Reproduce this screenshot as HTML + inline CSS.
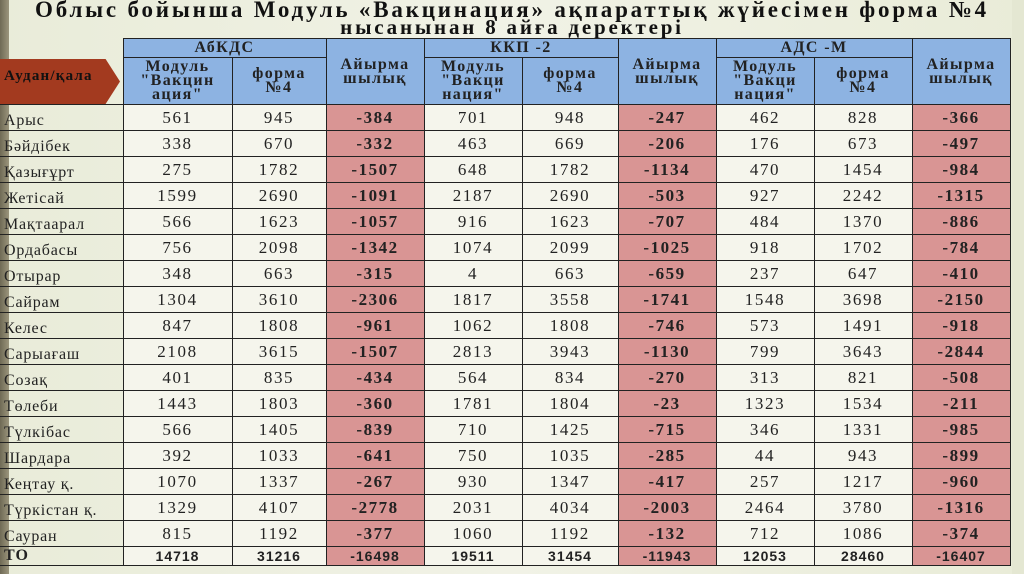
<!DOCTYPE html>
<html><head><meta charset="utf-8"><style>
html,body{margin:0;padding:0;}
body{width:1024px;height:574px;overflow:hidden;position:relative;
background:linear-gradient(90deg,#e9ecd9 0%,#f1f2e6 50%,#e9ecd8 100%);
font-family:"Liberation Serif",serif;}
.strip{position:absolute;left:0;top:0;width:9px;height:574px;background:linear-gradient(90deg,#6f6a55,#9b957c);}
.rstrip{position:absolute;right:0;top:0;width:12px;height:574px;background:#e4e7d2;}
.t1,.t2{position:absolute;left:0;width:1024px;text-align:center;font-weight:bold;color:#111;white-space:nowrap;}
.t1{top:-3px;font-size:23px;letter-spacing:2.8px;}
.t2{top:15px;font-size:21px;letter-spacing:2.8px;}
table{position:absolute;left:0;top:38px;border-collapse:collapse;table-layout:fixed;}
td{border:1.5px solid #222;padding:0;text-align:center;font-size:17px;letter-spacing:1.6px;color:#222;overflow:hidden;white-space:nowrap;}
.h{background:#8db3e2;font-weight:bold;font-size:16px;line-height:14px;letter-spacing:1.4px;}
.g{background:#8db3e2;font-weight:bold;font-size:16px;line-height:16px;letter-spacing:1.4px;}
.c{background:#f5f5ec;}
.d{background:#d99594;font-weight:bold;font-size:17px;letter-spacing:1.5px;}
.n{border-left:none;text-align:left;padding-left:4px;vertical-align:bottom;font-size:16px;letter-spacing:0.8px;background:transparent;}
tr.r td{height:24.5px;}
tr.r{height:26px;}
tr.to td{height:17px;font-family:"Liberation Sans",sans-serif;font-weight:bold;font-size:14px;letter-spacing:1px;}
tr.to td.n{font-family:"Liberation Serif",serif;font-size:16px;vertical-align:middle;}
.arrow{position:absolute;left:0;top:59px;width:120px;height:45px;background:#a33a1f;clip-path:polygon(0 0,88% 0,100% 50%,88% 100%,0 100%);}
.al{position:absolute;left:4px;top:68px;font-size:15px;font-weight:bold;letter-spacing:1.2px;color:#111;}
</style></head><body>
<div class="strip"></div><div class="rstrip"></div>
<div class="t1">Облыс бойынша Модуль «Вакцинация» ақпараттық жүйесімен форма №4</div>
<div class="t2">нысанынан 8 айға деректері</div>
<table>
<colgroup><col style="width:123px"><col style="width:109px"><col style="width:94px"><col style="width:98px"><col style="width:98px"><col style="width:96px"><col style="width:98px"><col style="width:98px"><col style="width:98px"><col style="width:98px"></colgroup>
<tr style="height:19px"><td rowspan="2" style="border-left:none;border-top:none;background:transparent"></td><td class="g" colspan="2">АбКДС</td><td class="h" rowspan="2">Айырма<br>шылық</td><td class="g" colspan="2">ККП -2</td><td class="h" rowspan="2">Айырма<br>шылық</td><td class="g" colspan="2">АДС -М</td><td class="h" rowspan="2">Айырма<br>шылық</td></tr>
<tr style="height:47px"><td class="h">Модуль<br>"Вакцин<br>ация"</td><td class="h">форма<br>№4</td><td class="h">Модуль<br>"Вакци<br>нация"</td><td class="h">форма<br>№4</td><td class="h">Модуль<br>"Вакци<br>нация"</td><td class="h">форма<br>№4</td></tr>
<tr class="r"><td class="n">Арыс</td><td class="c">561</td><td class="c">945</td><td class="d">-384</td><td class="c">701</td><td class="c">948</td><td class="d">-247</td><td class="c">462</td><td class="c">828</td><td class="d">-366</td></tr>
<tr class="r"><td class="n">Бәйдібек</td><td class="c">338</td><td class="c">670</td><td class="d">-332</td><td class="c">463</td><td class="c">669</td><td class="d">-206</td><td class="c">176</td><td class="c">673</td><td class="d">-497</td></tr>
<tr class="r"><td class="n">Қазығұрт</td><td class="c">275</td><td class="c">1782</td><td class="d">-1507</td><td class="c">648</td><td class="c">1782</td><td class="d">-1134</td><td class="c">470</td><td class="c">1454</td><td class="d">-984</td></tr>
<tr class="r"><td class="n">Жетісай</td><td class="c">1599</td><td class="c">2690</td><td class="d">-1091</td><td class="c">2187</td><td class="c">2690</td><td class="d">-503</td><td class="c">927</td><td class="c">2242</td><td class="d">-1315</td></tr>
<tr class="r"><td class="n">Мақтаарал</td><td class="c">566</td><td class="c">1623</td><td class="d">-1057</td><td class="c">916</td><td class="c">1623</td><td class="d">-707</td><td class="c">484</td><td class="c">1370</td><td class="d">-886</td></tr>
<tr class="r"><td class="n">Ордабасы</td><td class="c">756</td><td class="c">2098</td><td class="d">-1342</td><td class="c">1074</td><td class="c">2099</td><td class="d">-1025</td><td class="c">918</td><td class="c">1702</td><td class="d">-784</td></tr>
<tr class="r"><td class="n">Отырар</td><td class="c">348</td><td class="c">663</td><td class="d">-315</td><td class="c">4</td><td class="c">663</td><td class="d">-659</td><td class="c">237</td><td class="c">647</td><td class="d">-410</td></tr>
<tr class="r"><td class="n">Сайрам</td><td class="c">1304</td><td class="c">3610</td><td class="d">-2306</td><td class="c">1817</td><td class="c">3558</td><td class="d">-1741</td><td class="c">1548</td><td class="c">3698</td><td class="d">-2150</td></tr>
<tr class="r"><td class="n">Келес</td><td class="c">847</td><td class="c">1808</td><td class="d">-961</td><td class="c">1062</td><td class="c">1808</td><td class="d">-746</td><td class="c">573</td><td class="c">1491</td><td class="d">-918</td></tr>
<tr class="r"><td class="n">Сарыағаш</td><td class="c">2108</td><td class="c">3615</td><td class="d">-1507</td><td class="c">2813</td><td class="c">3943</td><td class="d">-1130</td><td class="c">799</td><td class="c">3643</td><td class="d">-2844</td></tr>
<tr class="r"><td class="n">Созақ</td><td class="c">401</td><td class="c">835</td><td class="d">-434</td><td class="c">564</td><td class="c">834</td><td class="d">-270</td><td class="c">313</td><td class="c">821</td><td class="d">-508</td></tr>
<tr class="r"><td class="n">Төлеби</td><td class="c">1443</td><td class="c">1803</td><td class="d">-360</td><td class="c">1781</td><td class="c">1804</td><td class="d">-23</td><td class="c">1323</td><td class="c">1534</td><td class="d">-211</td></tr>
<tr class="r"><td class="n">Түлкібас</td><td class="c">566</td><td class="c">1405</td><td class="d">-839</td><td class="c">710</td><td class="c">1425</td><td class="d">-715</td><td class="c">346</td><td class="c">1331</td><td class="d">-985</td></tr>
<tr class="r"><td class="n">Шардара</td><td class="c">392</td><td class="c">1033</td><td class="d">-641</td><td class="c">750</td><td class="c">1035</td><td class="d">-285</td><td class="c">44</td><td class="c">943</td><td class="d">-899</td></tr>
<tr class="r"><td class="n">Кеңтау қ.</td><td class="c">1070</td><td class="c">1337</td><td class="d">-267</td><td class="c">930</td><td class="c">1347</td><td class="d">-417</td><td class="c">257</td><td class="c">1217</td><td class="d">-960</td></tr>
<tr class="r"><td class="n">Түркістан қ.</td><td class="c">1329</td><td class="c">4107</td><td class="d">-2778</td><td class="c">2031</td><td class="c">4034</td><td class="d">-2003</td><td class="c">2464</td><td class="c">3780</td><td class="d">-1316</td></tr>
<tr class="r"><td class="n">Сауран</td><td class="c">815</td><td class="c">1192</td><td class="d">-377</td><td class="c">1060</td><td class="c">1192</td><td class="d">-132</td><td class="c">712</td><td class="c">1086</td><td class="d">-374</td></tr>
<tr class="to"><td class="n">ТО</td><td class="c">14718</td><td class="c">31216</td><td class="d">-16498</td><td class="c">19511</td><td class="c">31454</td><td class="d">-11943</td><td class="c">12053</td><td class="c">28460</td><td class="d">-16407</td></tr>
</table>
<div class="arrow"></div><div class="al">Аудан/қала</div>
</body></html>
